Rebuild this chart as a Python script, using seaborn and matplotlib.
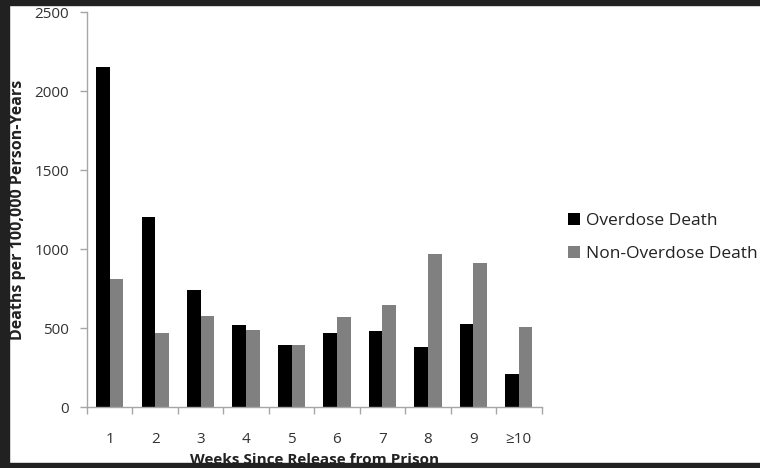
import matplotlib
matplotlib.use('Agg')
import matplotlib.pyplot as plt
import seaborn as sns
import pandas as pd
import numpy as np
from matplotlib.patches import Rectangle

weeks = ['1', '2', '3', '4', '5', '6', '7', '8', '9', '≥10']
overdose = [2150, 1200, 740, 520, 395, 470, 480, 380, 525, 210]
non_overdose = [810, 470, 575, 490, 395, 570, 645, 970, 915, 505]
series = ['Overdose Death', 'Non-Overdose Death']

df = pd.DataFrame({
    'week': weeks * 2,
    'rate': overdose + non_overdose,
    'kind': [series[0]] * len(weeks) + [series[1]] * len(weeks),
})

sns.set_style('white')
plt.rcParams['font.family'] = ['Open Sans', 'DejaVu Sans']

fig = plt.figure(figsize=(7.6, 4.68), dpi=100)
fig.patch.set_facecolor('white')
ax = fig.add_axes([0.1145, 0.1303, 0.598, 0.8437])

sns.barplot(data=df, x='week', y='rate', hue='kind', order=weeks,
            hue_order=series, palette=['#000000', '#808080'],
            width=0.6, saturation=1, linewidth=0, ax=ax, legend=True)

ax.set_ylim(0, 2500)
ax.set_xlim(-0.5, len(weeks) - 0.5)
ax.set_yticks(np.arange(0, 2501, 500))
ax.set_xticks(np.arange(-0.5, len(weeks), 1.0), minor=True)

for s in ['top', 'right']:
    ax.spines[s].set_visible(False)
for s in ['left', 'bottom']:
    ax.spines[s].set_color('#a6a6a6')
    ax.spines[s].set_linewidth(1.0)

ax.tick_params(axis='y', which='major', length=5, width=1, color='#a6a6a6',
               labelsize=11, labelcolor='#333333', left=True, pad=8)
ax.tick_params(axis='x', which='major', length=0, labelsize=11,
               labelcolor='#333333', pad=18)
ax.tick_params(axis='x', which='minor', length=5, width=1, color='#a6a6a6',
               bottom=True)

ax.set_ylabel('Deaths per 100,000 Person-Years', fontsize=11.5,
              fontweight='bold', color='#222222', labelpad=6)
ax.set_xlabel('Weeks Since Release from Prison', fontsize=11,
              fontweight='bold', color='#222222', labelpad=4)

handles, labels = ax.get_legend_handles_labels()
ax.get_legend().remove()
fig.legend(handles, labels, loc='upper left', bbox_to_anchor=(0.748, 0.545),
           frameon=False, fontsize=12.5, handlelength=0.65, handleheight=0.65,
           handletextpad=0.35, labelspacing=1.0, labelcolor='#222222',
           borderaxespad=0, borderpad=0)

# dark frame around the cropped picture
dark = '#212121'
fig.patches.append(Rectangle((0, 0), 9 / 760, 1, transform=fig.transFigure,
                             color=dark, zorder=10))
fig.patches.append(Rectangle((0, 1 - 5 / 468), 1, 5 / 468,
                             transform=fig.transFigure, color=dark, zorder=10))
fig.patches.append(Rectangle((0, 0), 1, 5 / 468, transform=fig.transFigure,
                             color=dark, zorder=10))

fig.savefig('out.png', dpi=100)
